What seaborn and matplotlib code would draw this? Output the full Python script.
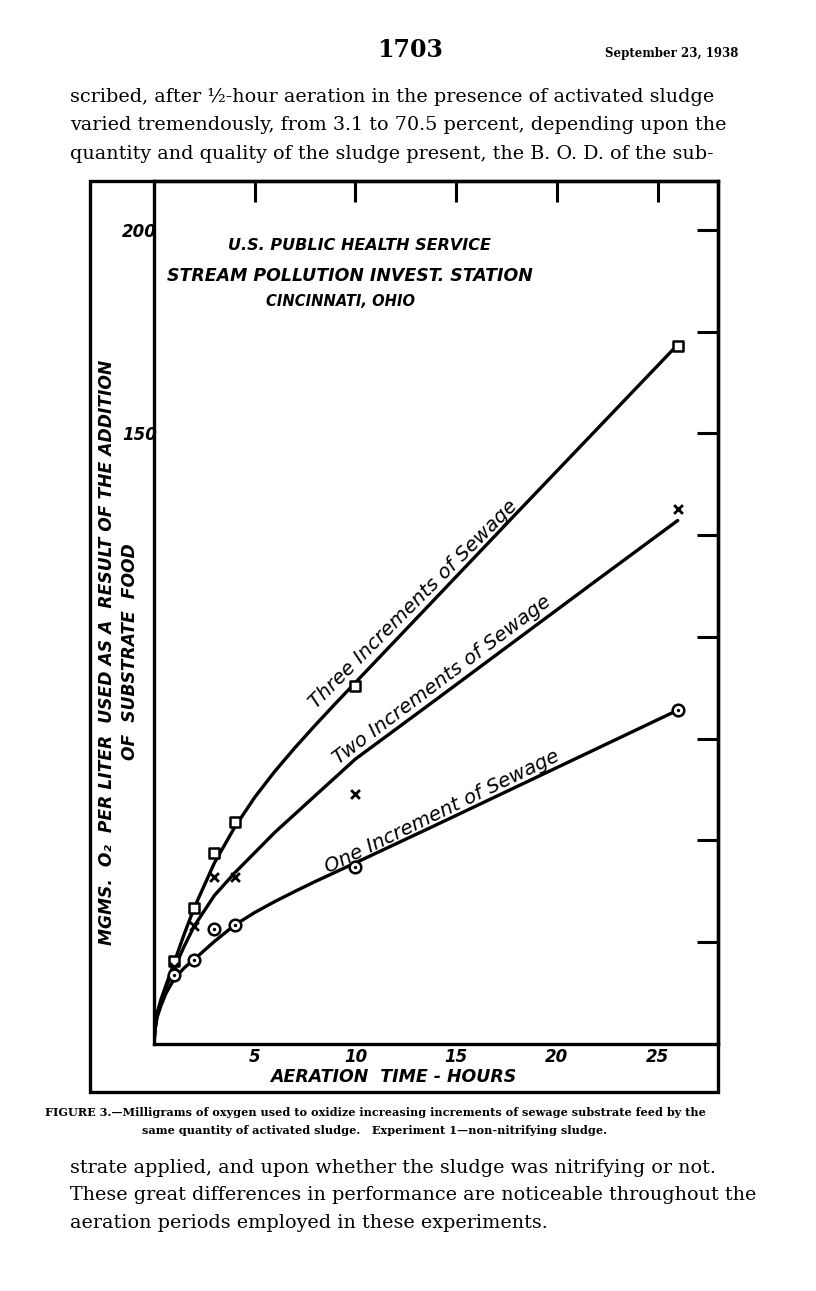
import pandas as pd
import matplotlib
matplotlib.use("Agg")
import matplotlib.pyplot as plt
import seaborn as sns
from matplotlib.patches import Rectangle

# smooth curves (hours, mg/l O2)
curve_x = [0, 0.05, 0.15, 0.35, 0.6, 1, 1.5, 2, 3, 4, 5, 6, 7, 8, 9, 10, 14, 18, 22, 26]
three_curve = [0, 4, 7.5, 11, 14.5, 20, 27, 33.5, 44.5, 53.2, 60.6, 67, 72.8, 78.3, 83.6, 88.8, 109.6, 130.4, 151.1, 171.8]
two_curve = [0, 3.5, 7, 10.5, 14, 18.5, 24, 29, 36.5, 42, 47, 52, 56.5, 61, 65.5, 70, 84.6, 99.3, 114, 128.6]
one_curve = [0, 3.5, 6.5, 9.5, 12.5, 16, 18.7, 20.8, 25.2, 29.2, 32.3, 35, 37.5, 39.9, 42.2, 44.5, 53.8, 63.2, 72.6, 82]

# observed points
obs_x = [1, 2, 3, 4, 10, 26]
three_obs = [20.5, 33.5, 47, 54.5, 88, 171.5]
two_obs = [19, 29, 41, 41, 61.5, 131.5]
one_obs = [17, 20.6, 28.3, 29.2, 43.5, 82]

x_ticks = [5, 10, 15, 20, 25]
y_ticks = [25, 50, 75, 100, 125, 150, 175, 200]
y_ticklabels = ["", "", "", "", "", "150", "", "200"]

curve_labels = ["Three Increments of Sewage", "Two Increments of Sewage", "One Increment of Sewage"]

header_lines = [
    "scribed, after \u00bd-hour aeration in the presence of activated sludge",
    "varied tremendously, from 3.1 to 70.5 percent, depending upon the",
    "quantity and quality of the sludge present, the B. O. D. of the sub-",
]
footer_lines = [
    "strate applied, and upon whether the sludge was nitrifying or not.",
    "These great differences in performance are noticeable throughout the",
    "aeration periods employed in these experiments.",
]
caption_lines = [
    "FIGURE 3.\u2014Milligrams of oxygen used to oxidize increasing increments of sewage substrate feed by the",
    "same quantity of activated sludge.   Experiment 1\u2014non-nitrifying sludge.",
]

sns.set_style("white")
plt.rcParams["font.family"] = ["DejaVu Sans"]
plt.rcParams["text.color"] = "black"
plt.rcParams["xtick.color"] = "black"
plt.rcParams["ytick.color"] = "black"

W, H = 816, 1291
fig = plt.figure(figsize=(W / 100, H / 100), dpi=100)

def fx(px):
    return px / W

def fy(py):
    return 1 - py / H

ax = fig.add_axes([fx(154), fy(1044), fx(718) - fx(154), fy(181) - fy(1044)])
ax.set_xlim(0, 28)
ax.set_ylim(0, 212)

hand = dict(fontstyle="italic", fontweight="bold", color="black")

for ys in [three_curve, two_curve, one_curve]:
    sns.lineplot(x=curve_x, y=ys, ax=ax, color="black", lw=2.4, sort=False,
                 estimator=None, zorder=2)

sns.scatterplot(x=obs_x, y=three_obs, ax=ax, marker="s", s=45, facecolor="white",
                edgecolor="black", linewidth=1.8, zorder=3)
sns.scatterplot(x=obs_x, y=two_obs, ax=ax, marker="x", s=40, color="black",
                linewidth=2.0, zorder=3)
sns.scatterplot(x=obs_x, y=one_obs, ax=ax, marker="o", s=70, facecolor="white",
                edgecolor="black", linewidth=1.8, zorder=3)
sns.scatterplot(x=obs_x, y=one_obs, ax=ax, marker="o", s=6, color="black",
                linewidth=0, zorder=4)

for s in ax.spines.values():
    s.set_linewidth(2.4)
    s.set_color("black")

ax.set_xticks(x_ticks)
ax.set_xticklabels([str(t) for t in x_ticks])
ax.set_yticks(y_ticks)
ax.set_yticklabels(y_ticklabels)
ax.tick_params(axis="both", direction="in", length=15, width=2.2, color="black",
               top=True, right=True, labeltop=False, labelright=False)
ax.tick_params(axis="x", pad=3, labelsize=12, labelcolor="black")
ax.tick_params(axis="y", pad=-2, labelsize=12, labelcolor="black")
for lab in ax.get_xticklabels() + ax.get_yticklabels():
    lab.set_fontstyle("italic")
    lab.set_fontweight("bold")

# labels along curves
ax.text(13.2, 106.5, curve_labels[0], rotation=45, rotation_mode="anchor",
        ha="center", va="bottom", fontsize=14.3, fontstyle="italic")
ax.text(14.6, 87.5, curve_labels[1], rotation=37, rotation_mode="anchor",
        ha="center", va="bottom", fontsize=14.3, fontstyle="italic")
ax.text(14.5, 55, curve_labels[2], rotation=26, rotation_mode="anchor",
        ha="center", va="bottom", fontsize=14.3, fontstyle="italic")

# station heading
fig.text(fx(359), fy(245), "U.S. PUBLIC HEALTH SERVICE", ha="center", va="center",
         fontsize=11.5, **hand)
fig.text(fx(350), fy(276), "STREAM POLLUTION INVEST. STATION", ha="center", va="center",
         fontsize=12.5, **hand)
fig.text(fx(340), fy(301), "CINCINNATI, OHIO", ha="center", va="center",
         fontsize=10.6, **hand)

# axis titles (two lines, like the lettering on the drawing)
fig.text(fx(107), fy(652), "MGMS.  O\u2082  PER LITER  USED AS A  RESULT OF THE ADDITION",
         rotation=90, ha="center", va="center", fontsize=12.3, **hand)
fig.text(fx(130), fy(652), "OF  SUBSTRATE  FOOD",
         rotation=90, ha="center", va="center", fontsize=12.3, **hand)
fig.text(fx(393), fy(1077), "AERATION  TIME - HOURS", ha="center", va="center",
         fontsize=12.5, **hand)

# outer frame of the drawing
fig.add_artist(Rectangle((fx(90), fy(1092)), fx(718) - fx(90), fy(181) - fy(1092),
                         transform=fig.transFigure, fill=False, lw=2.4,
                         edgecolor="black"))

# page furniture
serif = ["DejaVu Serif"]
fig.text(fx(410), fy(50), "1703", ha="center", va="center", fontsize=17,
         family=serif, fontweight="bold")
fig.text(fx(738), fy(53), "September 23, 1938", ha="right", va="center",
         fontsize=8.5, family=serif, fontweight="bold")
for i, line in enumerate(header_lines):
    fig.text(fx(70), fy(97 + i * 28.5), line, ha="left", va="center",
             fontsize=13.8, family=serif)
for i, line in enumerate(footer_lines):
    fig.text(fx(70), fy(1168 + i * 27.5), line, ha="left", va="center",
             fontsize=13.8, family=serif)
fig.text(fx(45), fy(1112), caption_lines[0], ha="left", va="center",
         fontsize=8.15, family=serif, fontweight="bold")
fig.text(fx(375), fy(1130), caption_lines[1], ha="center", va="center",
         fontsize=8.15, family=serif, fontweight="bold")

fig.savefig("out.png", dpi=100, facecolor="white")
